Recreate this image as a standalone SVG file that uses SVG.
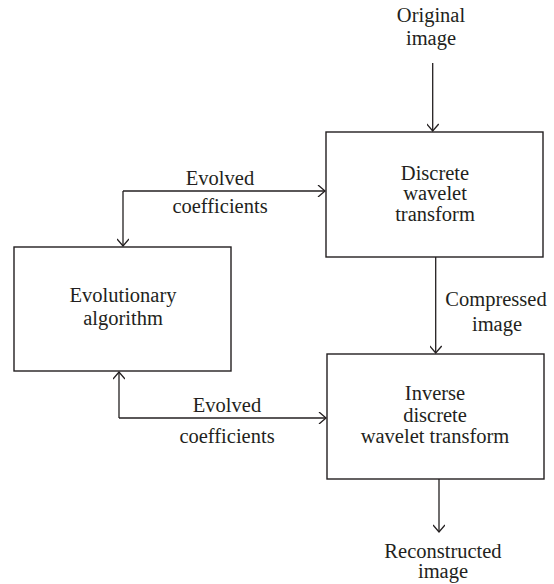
<svg xmlns="http://www.w3.org/2000/svg" width="554" height="584" viewBox="0 0 554 584">
<defs>
<marker id="arr" viewBox="-10 -6 12 12" refX="0" refY="0" markerWidth="12" markerHeight="12" markerUnits="userSpaceOnUse" orient="auto">
<path d="M-7,-6 L0,0 L-7,6" fill="none" stroke="#231f20" stroke-width="1.3"/>
</marker>
</defs>
<style>
.box{fill:#fff;stroke:#231f20;stroke-width:1.4}
.ln{fill:none;stroke:#231f20;stroke-width:1.3}
text{font-size:20.5px;fill:#231f20;text-anchor:middle}
</style>
<rect width="554" height="584" fill="#fff"/>
<g font-family="'Liberation Serif', 'Times New Roman', serif">
<g id="connectors">
<line class="ln" x1="432.7" y1="63" x2="432.7" y2="131" marker-end="url(#arr)"/>
<line class="ln" x1="435.7" y1="257" x2="435.7" y2="353" marker-end="url(#arr)"/>
<line class="ln" x1="439" y1="479" x2="439" y2="532" marker-end="url(#arr)"/>
<polyline class="ln" points="123,191 325,191" marker-end="url(#arr)"/>
<polyline class="ln" points="123,191 123,246" marker-end="url(#arr)"/>
<polyline class="ln" points="119,418 326,418" marker-end="url(#arr)"/>
<polyline class="ln" points="119,418 119,372" marker-end="url(#arr)"/>
<text x="220" y="185">Evolved</text>
<text x="220" y="213">coefficients</text>
<text x="227" y="412">Evolved</text>
<text x="227" y="443">coefficients</text>
<text x="496" y="306">Compressed</text>
<text x="497" y="331">image</text>
</g>
<g id="original">
<text x="431" y="22">Original</text>
<text x="431" y="45">image</text>
</g>
<g id="dwt">
<rect class="box" x="326" y="132" width="217" height="125"/>
<text x="435" y="180">Discrete</text>
<text x="435" y="200">wavelet</text>
<text x="435" y="221">transform</text>
</g>
<g id="ea">
<rect class="box" x="14" y="247" width="217" height="124"/>
<text x="123" y="302">Evolutionary</text>
<text x="123" y="325">algorithm</text>
</g>
<g id="idwt">
<rect class="box" x="327" y="354" width="217" height="125"/>
<text x="435" y="400">Inverse</text>
<text x="435" y="422">discrete</text>
<text x="435" y="443">wavelet transform</text>
</g>
<g id="reconstructed">
<text x="443" y="558">Reconstructed</text>
<text x="443" y="578">image</text>
</g>
</g>
</svg>
